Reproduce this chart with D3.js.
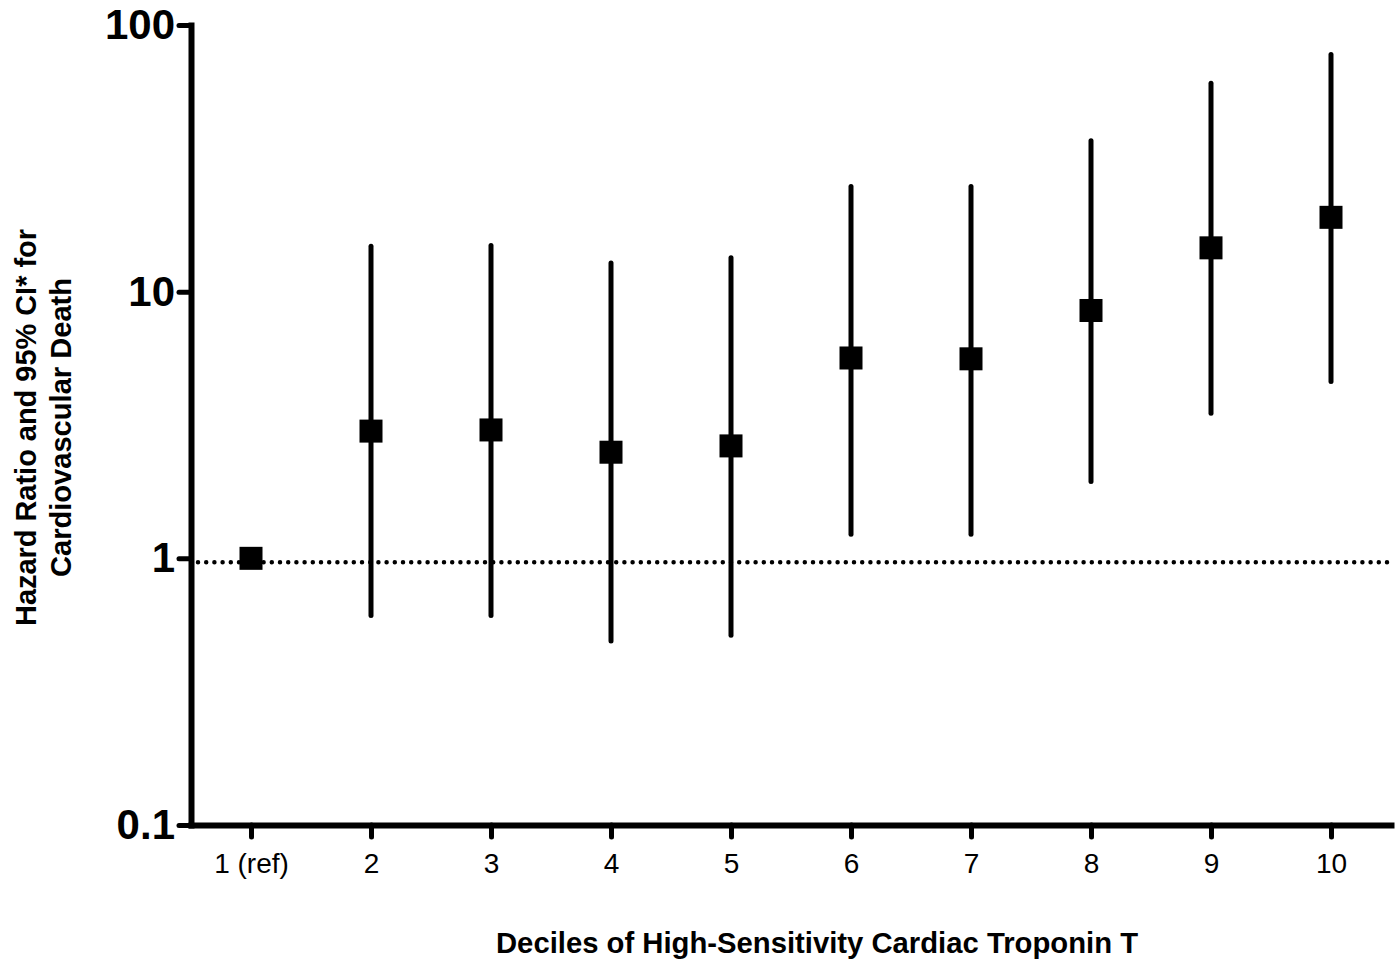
<!DOCTYPE html>
<html>
<head>
<meta charset="utf-8">
<script src="https://cdn.jsdelivr.net/npm/d3@7"></script>
<style>
	body { margin: 0; background: #fff; }
	svg { display: block; font-family: "Liberation Sans", Arial, sans-serif; }
</style>
</head>
<body>
<div id="chart"></div>
<script>
let deciles = ["1 (ref)", "2", "3", "4", "5", "6", "7", "8", "9", "10"];
let hazardRatio = [1, 3.0, 3.03, 2.5, 2.64, 5.64, 5.6, 8.5, 14.6, 19.0];
let ciLower = [null, 0.61, 0.61, 0.49, 0.515, 1.23, 1.23, 1.94, 3.5, 4.6];
let ciUpper = [null, 14.8, 14.9, 12.8, 13.4, 24.8, 24.8, 36.8, 60.5, 77.5];
let yTicks = [0.1, 1, 10, 100];
let refValue = 0.966; // dotted reference line sits a hair under 1

let width = 1400;
let height = 961;

let svg = d3
	.select("#chart")
	.append("svg")
	.attr("width", width)
	.attr("height", height);

let xScale = d3
	.scalePoint()
	.domain(deciles)
	.range([191, 1391])
	.padding(0.5);

let yScale = d3.scaleLog().domain([0.1, 100]).range([825, 25]);

let yAxis = d3
	.axisLeft(yScale)
	.tickValues(yTicks)
	.tickFormat((d) => d)
	.tickSizeInner(12)
	.tickSizeOuter(0)
	.tickPadding(4);

let xAxis = d3
	.axisBottom(xScale)
	.tickSizeInner(12)
	.tickSizeOuter(0)
	.tickPadding(16);

// reference line at HR = 1
svg
	.append("line")
	.attr("x1", 198)
	.attr("x2", 1391)
	.attr("y1", yScale(refValue))
	.attr("y2", yScale(refValue))
	.attr("stroke", "#000")
	.attr("stroke-width", 4.5)
	.attr("stroke-linecap", "round")
	.attr("stroke-dasharray", "0 8.2");

svg
	.append("g")
	.attr("transform", "translate(191,0)")
	.call(yAxis)
	.call((g) =>
		g
			.select(".domain")
			.attr("stroke-width", 6)
			.attr("stroke-linecap", "square")
	)
	.call((g) =>
		g
			.selectAll(".tick line")
			.attr("stroke-width", 5)
			.attr("stroke-linecap", "round")
	)
	.call((g) =>
		g
			.selectAll(".tick text")
			.attr("font-size", 42)
			.attr("font-weight", "bold")
			.attr("fill", "#000")
			.attr("font-family", "Liberation Sans, Arial, sans-serif")
	);

svg
	.append("g")
	.attr("transform", "translate(0,825)")
	.call(xAxis)
	.call((g) =>
		g
			.select(".domain")
			.attr("stroke-width", 6)
			.attr("stroke-linecap", "square")
	)
	.call((g) =>
		g
			.selectAll(".tick line")
			.attr("stroke-width", 5)
			.attr("stroke-linecap", "round")
	)
	.call((g) =>
		g
			.selectAll(".tick text")
			.attr("font-size", 28)
			.attr("fill", "#000")
			.attr("font-family", "Liberation Sans, Arial, sans-serif")
	);

let rows = deciles.map((d, i) => ({
	decile: d,
	hr: hazardRatio[i],
	lo: ciLower[i],
	hi: ciUpper[i],
}));

// 95% CI bars
svg
	.append("g")
	.selectAll("line")
	.data(rows.filter((d) => d.lo != null))
	.join("line")
	.attr("x1", (d) => xScale(d.decile))
	.attr("x2", (d) => xScale(d.decile))
	.attr("y1", (d) => yScale(d.lo))
	.attr("y2", (d) => yScale(d.hi))
	.attr("stroke", "#000")
	.attr("stroke-width", 5)
	.attr("stroke-linecap", "round");

// point estimates
let size = 23;
svg
	.append("g")
	.selectAll("rect")
	.data(rows)
	.join("rect")
	.attr("x", (d) => xScale(d.decile) - size / 2)
	.attr("y", (d) => yScale(d.hr) - size / 2)
	.attr("width", size)
	.attr("height", size)
	.attr("fill", "#000");

// axis titles
svg
	.append("text")
	.attr("x", 817)
	.attr("y", 953)
	.attr("text-anchor", "middle")
	.attr("font-size", 29)
	.attr("font-weight", "bold")
	.attr("textLength", 642)
	.attr("lengthAdjust", "spacingAndGlyphs")
	.text("Deciles of High-Sensitivity Cardiac Troponin T");

let yTitle = svg
	.append("text")
	.attr("transform", "translate(0,427.5) rotate(-90)")
	.attr("text-anchor", "middle")
	.attr("font-size", 29)
	.attr("font-weight", "bold");

yTitle
	.append("tspan")
	.attr("x", 0)
	.attr("y", 36)
	.attr("textLength", 397)
	.attr("lengthAdjust", "spacingAndGlyphs")
	.text("Hazard Ratio and 95% CI* for");

yTitle
	.append("tspan")
	.attr("x", 0)
	.attr("y", 71)
	.attr("textLength", 299)
	.attr("lengthAdjust", "spacingAndGlyphs")
	.text("Cardiovascular Death");
</script>
</body>
</html>
